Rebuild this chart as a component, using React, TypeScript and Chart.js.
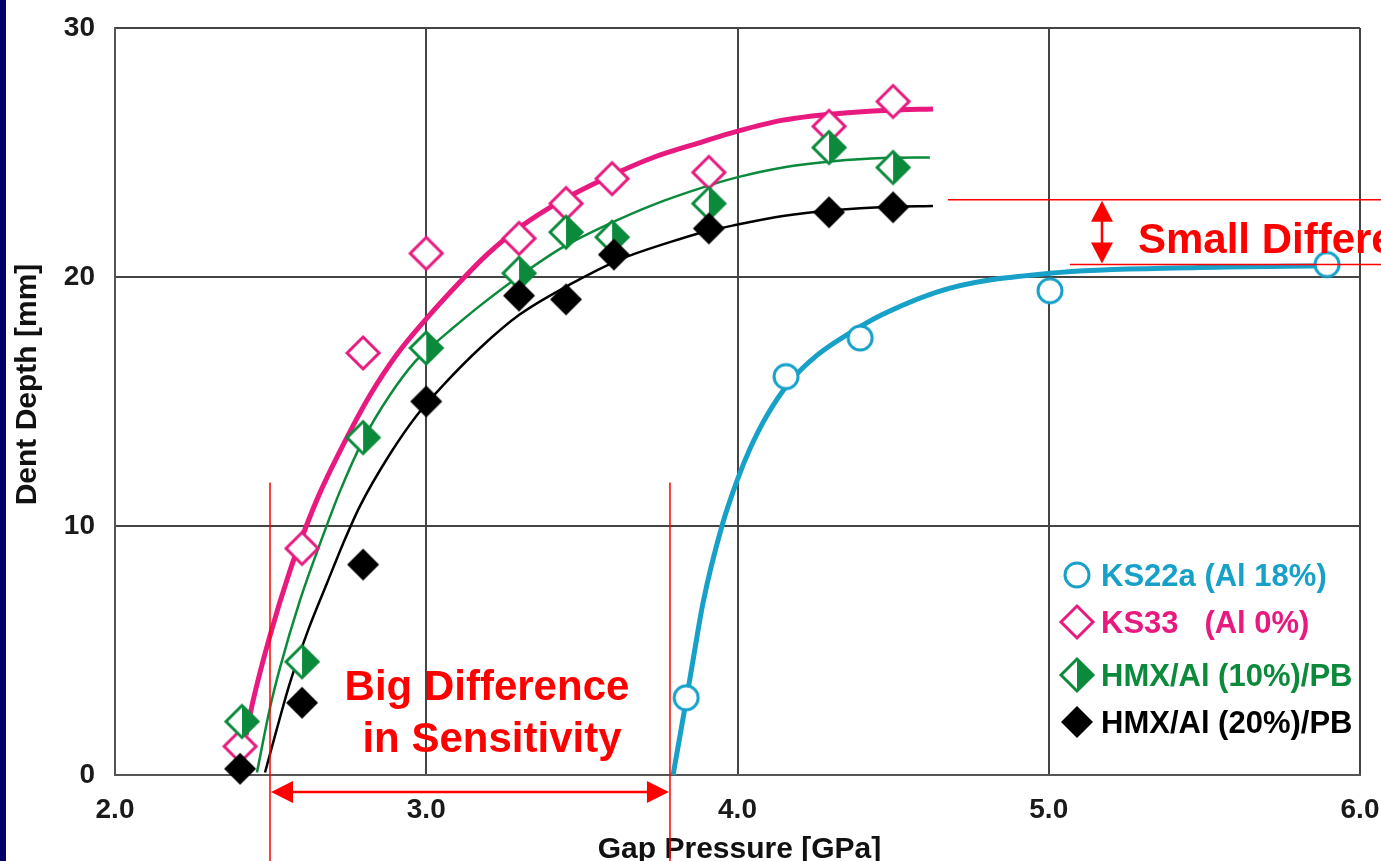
import React, { useEffect, useRef } from "react";
import { Chart, registerables } from "chart.js";

Chart.register(...registerables);

// ---------- data ----------
const seriesLabels = ["KS22a (Al 18%)", "KS33   (Al 0%)", "HMX/Al (10%)/PB", "HMX/Al (20%)/PB"];
const seriesColors = ["#17a1c9", "#e8197f", "#0c8a3c", "#000000"];

// measured points (Gap Pressure [GPa], Dent Depth [mm])
const ks22aPressure = [3.835, 4.156, 4.394, 5.004, 5.894];
const ks22aDepth = [3.1, 16.0, 17.55, 19.45, 20.5];

const ks33Pressure = [2.402, 2.601, 2.797, 3.0, 3.298, 3.449, 3.597, 3.908, 4.294, 4.5];
const ks33Depth = [1.15, 9.1, 16.95, 20.95, 21.55, 22.95, 23.95, 24.2, 26.05, 27.05];

const hmx10Pressure = [2.408, 2.601, 2.797, 3.0, 3.298, 3.449, 3.597, 3.908, 4.294, 4.5];
const hmx10Depth = [2.15, 4.55, 13.55, 17.15, 20.15, 21.8, 21.6, 22.95, 25.2, 24.4];

const hmx20Pressure = [2.402, 2.601, 2.797, 3.0, 3.298, 3.449, 3.603, 3.908, 4.294, 4.5];
const hmx20Depth = [0.25, 2.9, 8.45, 15.0, 19.25, 19.1, 20.9, 21.95, 22.6, 22.8];

// fitted curves
const ks22aCurvePressure = [3.793, 3.838, 3.857, 3.889, 3.95, 3.998, 4.04, 4.095, 4.169, 4.255, 4.361, 4.467, 4.683, 5.004, 5.486, 5.904];
const ks22aCurveDepth = [0.0, 3.2, 4.6, 6.9, 10.0, 11.8, 13.1, 14.45, 15.8, 16.85, 17.75, 18.5, 19.55, 20.15, 20.38, 20.45];

const ks33CurvePressure = [2.421, 2.443, 2.498, 2.562, 2.61, 2.659, 2.745, 2.819, 2.906, 3.002, 3.108, 3.195, 3.301, 3.439, 3.581, 3.729, 3.88, 3.998, 4.146, 4.307, 4.49, 4.628];
const ks33CurveDepth = [1.6, 2.95, 5.6, 8.2, 9.85, 11.35, 13.55, 15.25, 16.9, 18.35, 19.8, 20.9, 22.0, 23.1, 24.0, 24.8, 25.4, 25.85, 26.3, 26.55, 26.7, 26.75];

const hmx10CurvePressure = [2.456, 2.498, 2.53, 2.594, 2.659, 2.723, 2.797, 2.88, 2.964, 3.002, 3.076, 3.173, 3.301, 3.439, 3.59, 3.729, 3.889, 3.998, 4.146, 4.307, 4.467, 4.618];
const hmx10CurveDepth = [0.1, 2.7, 4.3, 7.0, 9.3, 11.4, 13.45, 15.2, 16.6, 17.05, 17.85, 18.85, 20.05, 21.2, 22.15, 22.9, 23.6, 24.0, 24.4, 24.65, 24.78, 24.8];

const hmx20CurvePressure = [2.482, 2.52, 2.562, 2.617, 2.681, 2.733, 2.787, 2.884, 2.97, 3.054, 3.173, 3.301, 3.462, 3.622, 3.783, 3.889, 3.998, 4.146, 4.307, 4.49, 4.628];
const hmx20CurveDepth = [0.1, 1.85, 3.7, 5.7, 7.7, 9.3, 10.8, 12.9, 14.45, 15.65, 17.15, 18.5, 19.7, 20.7, 21.4, 21.8, 22.1, 22.45, 22.68, 22.82, 22.85];

const xTickLabels = ["2.0", "3.0", "4.0", "5.0", "6.0"];
const yTickLabels = ["0", "10", "20", "30"];
const xTitle = "Gap Pressure [GPa]";
const yTitle = "Dent Depth [mm]";

// annotations (in data units)
const bigDiffPressures = [2.498, 3.783];
const bigDiffLineTopDepth = 11.75;
const bigDiffArrowDepth = -0.68;
const bigDiffText = ["Big Difference", "in Sensitivity"];
const smallDiffDepths = [23.1, 20.5];
const smallDiffLineStart = [4.676, 5.068];
const smallDiffArrowPressure = 5.171;
const smallDiffText = "Small Difference";

const FONT = '"Liberation Sans", Arial, Helvetica, sans-serif';
const RED = "#ff0000";
const NAVY = "#020266";

function pts(px: number[], dy: number[]) {
  return px.map((x, i) => ({ x, y: dy[i] }));
}

function diamondPath(ctx: CanvasRenderingContext2D, cx: number, cy: number, r: number) {
  ctx.beginPath();
  ctx.moveTo(cx - r, cy);
  ctx.lineTo(cx, cy - r);
  ctx.lineTo(cx + r, cy);
  ctx.lineTo(cx, cy + r);
  ctx.closePath();
}

function drawMarker(ctx: CanvasRenderingContext2D, kind: number, cx: number, cy: number, r: number) {
  const color = seriesColors[kind];
  ctx.save();
  if (kind === 0) {
    ctx.beginPath();
    ctx.arc(cx, cy, r, 0, Math.PI * 2);
    ctx.fillStyle = "#fff";
    ctx.fill();
    ctx.lineWidth = 3;
    ctx.strokeStyle = color;
    ctx.stroke();
  } else if (kind === 1) {
    diamondPath(ctx, cx, cy, r);
    ctx.fillStyle = "#fff";
    ctx.fill();
    ctx.lineWidth = 3;
    ctx.strokeStyle = color;
    ctx.stroke();
  } else if (kind === 2) {
    diamondPath(ctx, cx, cy, r);
    ctx.fillStyle = "#fff";
    ctx.fill();
    ctx.beginPath();
    ctx.moveTo(cx, cy - r);
    ctx.lineTo(cx + r, cy);
    ctx.lineTo(cx, cy + r);
    ctx.closePath();
    ctx.fillStyle = color;
    ctx.fill();
    diamondPath(ctx, cx, cy, r);
    ctx.lineWidth = 3;
    ctx.strokeStyle = color;
    ctx.stroke();
  } else {
    diamondPath(ctx, cx, cy, r);
    ctx.fillStyle = color;
    ctx.fill();
  }
  ctx.restore();
}

function makeMarkerCanvas(kind: number, r: number) {
  const c = document.createElement("canvas");
  const s = Math.ceil(2 * r + 6);
  c.width = s;
  c.height = s;
  const ctx = c.getContext("2d")!;
  drawMarker(ctx, kind, s / 2, s / 2, r);
  return c;
}

function drawArrowHead(ctx: CanvasRenderingContext2D, tipX: number, tipY: number, dx: number, dy: number, len: number, half: number) {
  const bx = tipX - dx * len;
  const by = tipY - dy * len;
  ctx.beginPath();
  ctx.moveTo(tipX, tipY);
  ctx.lineTo(bx - dy * half, by + dx * half);
  ctx.lineTo(bx + dy * half, by - dx * half);
  ctx.closePath();
  ctx.fill();
}

function zeroPadding(s: any) {
  s.paddingLeft = 0;
  s.paddingRight = 0;
  s.paddingTop = 0;
  s.paddingBottom = 0;
}

const overlayPlugin = {
  id: "overlay",
  beforeDraw(chart: any) {
    const ctx = chart.ctx as CanvasRenderingContext2D;
    ctx.save();
    ctx.fillStyle = "#ffffff";
    ctx.fillRect(0, 0, chart.width, chart.height);
    ctx.fillStyle = NAVY;
    ctx.fillRect(0, 0, 6, chart.height);
    ctx.restore();
  },
  afterDraw(chart: any) {
    const ctx = chart.ctx as CanvasRenderingContext2D;
    const xs = chart.scales.x;
    const ys = chart.scales.y;
    const ca = chart.chartArea;
    ctx.save();

    // axis titles
    ctx.fillStyle = "#111";
    ctx.font = `bold 30px ${FONT}`;
    ctx.textAlign = "center";
    ctx.textBaseline = "alphabetic";
    ctx.fillText(xTitle, (ca.left + ca.right) / 2 + 2, chart.height - 3);
    ctx.save();
    ctx.translate(36, (ca.top + ca.bottom) / 2 - 17);
    ctx.rotate(-Math.PI / 2);
    ctx.fillText(yTitle, 0, 0);
    ctx.restore();

    // legend
    const lx = ca.right - 283;
    const rows = [575, 622, 675, 722];
    ctx.font = `bold 31px ${FONT}`;
    ctx.textAlign = "left";
    ctx.textBaseline = "middle";
    seriesLabels.forEach((lab, i) => {
      drawMarker(ctx, i, lx, rows[i], i === 0 ? 12 : 16);
      ctx.fillStyle = seriesColors[i];
      ctx.fillText(lab, lx + 24, rows[i] + 2);
    });

    // red annotations
    ctx.strokeStyle = RED;
    ctx.fillStyle = RED;
    const vx1 = xs.getPixelForValue(bigDiffPressures[0]);
    const vx2 = xs.getPixelForValue(bigDiffPressures[1]);
    const vTop = ys.getPixelForValue(bigDiffLineTopDepth);
    ctx.lineWidth = 1.5;
    [vx1, vx2].forEach((vx) => {
      ctx.beginPath();
      ctx.moveTo(vx, vTop);
      ctx.lineTo(vx, chart.height);
      ctx.stroke();
    });
    const ay = ys.getPixelForValue(bigDiffArrowDepth);
    ctx.lineWidth = 2.5;
    ctx.beginPath();
    ctx.moveTo(vx1 + 15, ay);
    ctx.lineTo(vx2 - 15, ay);
    ctx.stroke();
    drawArrowHead(ctx, vx1 + 1, ay, -1, 0, 22, 11);
    drawArrowHead(ctx, vx2 - 1, ay, 1, 0, 22, 11);

    ctx.font = `bold 42px ${FONT}`;
    ctx.textAlign = "center";
    ctx.textBaseline = "alphabetic";
    const tx = (vx1 + vx2) / 2 + 17;
    ctx.fillText(bigDiffText[0], tx, ys.getPixelForValue(3.0));
    ctx.fillText(bigDiffText[1], tx + 5, ys.getPixelForValue(0.92));

    // small difference
    const hy1 = ys.getPixelForValue(smallDiffDepths[0]);
    const hy2 = ys.getPixelForValue(smallDiffDepths[1]);
    ctx.lineWidth = 1.5;
    ctx.beginPath();
    ctx.moveTo(xs.getPixelForValue(smallDiffLineStart[0]), hy1);
    ctx.lineTo(chart.width, hy1);
    ctx.moveTo(xs.getPixelForValue(smallDiffLineStart[1]), hy2);
    ctx.lineTo(chart.width, hy2);
    ctx.stroke();
    const sx = xs.getPixelForValue(smallDiffArrowPressure);
    ctx.lineWidth = 2.5;
    ctx.beginPath();
    ctx.moveTo(sx, hy1 + 14);
    ctx.lineTo(sx, hy2 - 14);
    ctx.stroke();
    drawArrowHead(ctx, sx, hy1 + 1, 0, -1, 21, 11);
    drawArrowHead(ctx, sx, hy2 - 1, 0, 1, 21, 11);
    ctx.textAlign = "left";
    ctx.fillText(smallDiffText, sx + 36, hy2 - 12);

    ctx.restore();
  },
};

export default function App() {
  const ref = useRef<HTMLCanvasElement | null>(null);

  useEffect(() => {
    document.body.style.margin = "0";
    const canvas = ref.current!;
    const mk = [0, 1, 2, 3].map((k) => makeMarkerCanvas(k, k === 0 ? 12 : 16));

    const pointSets = [
      pts(ks22aPressure, ks22aDepth),
      pts(ks33Pressure, ks33Depth),
      pts(hmx10Pressure, hmx10Depth),
      pts(hmx20Pressure, hmx20Depth),
    ];
    const curveSets = [
      pts(ks22aCurvePressure, ks22aCurveDepth),
      pts(ks33CurvePressure, ks33CurveDepth),
      pts(hmx10CurvePressure, hmx10CurveDepth),
      pts(hmx20CurvePressure, hmx20CurveDepth),
    ];
    const curveWidths = [5, 5, 2.5, 2.5];
    const pointOrder = [4, 3, 2, 1];

    const datasets: any[] = [];
    curveSets.forEach((d, i) => {
      datasets.push({
        label: seriesLabels[i] + " fit",
        data: d,
        showLine: true,
        borderColor: seriesColors[i],
        borderWidth: curveWidths[i],
        pointRadius: 0,
        cubicInterpolationMode: "monotone",
        fill: false,
        order: 10 + i,
        clip: false,
      });
    });
    pointSets.forEach((d, i) => {
      datasets.push({
        label: seriesLabels[i],
        data: d,
        showLine: false,
        pointStyle: mk[i],
        pointRadius: 12,
        backgroundColor: seriesColors[i],
        borderColor: seriesColors[i],
        order: pointOrder[i],
        clip: false,
      });
    });

    const tickFont = { family: FONT, size: 28, weight: "bold" as const };

    const chart = new Chart(canvas, {
      type: "scatter",
      data: { datasets },
      options: {
        responsive: false,
        animation: false,
        events: [],
        layout: { padding: { left: 0, top: 28, right: 21, bottom: 0 } },
        plugins: {
          legend: { display: false },
          tooltip: { enabled: false },
        },
        scales: {
          x: {
            type: "linear",
            min: 2,
            max: 6,
            afterFit: (s: any) => {
              s.height = 86;
              zeroPadding(s);
            },
            afterBuildTicks: (s: any) => {
              s.ticks = xTickLabels.map((t) => ({ value: parseFloat(t) }));
            },
            ticks: {
              callback: (v: any) => xTickLabels.find((t) => parseFloat(t) === v) ?? "",
              font: tickFont,
              color: "#1a1a1a",
              padding: 18,
              maxRotation: 0,
            },
            grid: { color: "#444", lineWidth: 2, drawTicks: false },
            border: { color: "#555", width: 2 },
          },
          y: {
            type: "linear",
            min: 0,
            max: 30,
            afterFit: (s: any) => {
              s.width = 115;
              zeroPadding(s);
            },
            afterBuildTicks: (s: any) => {
              s.ticks = yTickLabels.map((t) => ({ value: parseFloat(t) }));
            },
            ticks: {
              callback: (v: any) => yTickLabels.find((t) => parseFloat(t) === v) ?? "",
              font: tickFont,
              color: "#1a1a1a",
              padding: 20,
            },
            grid: { color: "#444", lineWidth: 2, drawTicks: false },
            border: { color: "#555", width: 2 },
          },
        },
      },
      plugins: [overlayPlugin],
    } as any);

    return () => chart.destroy();
  }, []);

  return (
    <div style={{ position: "absolute", left: 0, top: 0, width: 1381, height: 861 }}>
      <canvas ref={ref} width={1381} height={861} style={{ display: "block" }} />
    </div>
  );
}
